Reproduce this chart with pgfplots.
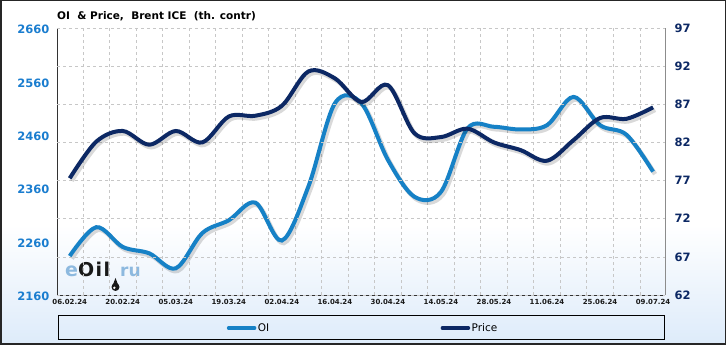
\documentclass[border=0pt]{standalone}
\usepackage{fontspec}
\setmainfont{DejaVu Sans}
\usepackage{pgfplots}
\usepackage{pgfplotstable}
\pgfplotsset{compat=1.18}
\definecolor{oiblue}{HTML}{1681C6}
\definecolor{navy}{HTML}{0C2864}
\definecolor{lblue}{HTML}{1A7DCF}
\definecolor{bgblue}{HTML}{DDEBFA}
\definecolor{wm}{HTML}{8DB9DF}

\pgfplotstableread{
w oi price
0 2233 77.3
1 2287 82.1
2 2250 83.5
3 2238 81.7
4 2210 83.5
5 2276 82.0
6 2300 85.4
7 2333 85.5
8 2262 86.8
9 2363 91.3
10 2519 90.4
11 2519 87.3
12 2413 89.5
13 2344 83.2
14 2353 82.7
15 2472 83.8
16 2475 82.0
17 2470 81.0
18 2478 79.6
19 2531 82.3
20 2478 85.2
21 2460 85.1
22 2391 86.6
}\datatable

\begin{document}
\begin{tikzpicture}[x=1pt,y=1pt]
\useasboundingbox (0,0) rectangle (726,345);
\fill[white] (0,0) rectangle (726,345);
\shade[top color=white, bottom color=bgblue] (0,0) rectangle (726,120);
\node[anchor=base west, inner sep=0pt, font=\bfseries\fontsize{10.5}{12}\selectfont] at (57,325) {OI \ \& Price, \ Brent ICE \ (th. contr)};
\node[anchor=base west, inner sep=0pt, font=\bfseries\fontsize{19}{21}\selectfont] at (65,68) {\textcolor{wm}{e}\textcolor{black!90}{O\hspace{1.5pt}i\hspace{1.5pt}l}};
\node[anchor=base west, inner sep=0pt, font=\bfseries\fontsize{17}{20}\selectfont] at (120,68) {\textcolor{wm}{ru}};
\fill[black!90] (115.5,58) circle (4pt);
\fill[black!90] (112.8,60) -- (115.5,67) -- (118.2,60) -- cycle;
\fill[white] (114.3,57.2) circle (1.3pt);
\draw[line width=1pt, black] (58,5) rectangle (664,29);

\begin{axis}[
  at={(57pt,50pt)}, anchor=south west, scale only axis,
  width=608pt, height=267pt,
  xmin=-0.48, xmax=22.45, ymin=2160, ymax=2660,
  axis line style={black!80, line width=0.8pt},
  ytick={2160,2260,...,2660},
  xtick={0,2,...,22},
  xticklabels={06.02.24,20.02.24,05.03.24,19.03.24,02.04.24,16.04.24,30.04.24,14.05.24,28.05.24,11.06.24,25.06.24,09.07.24},
  minor xtick={0.5,1.5,...,21.5},
  xminorgrids,
  minor grid style={dashed, black!22, line width=0.6pt},
  major tick length=0pt, minor tick length=0pt,
  axis y line*=left, axis x line*=bottom,
  /pgf/number format/assume math mode=true,
  /pgf/number format/1000 sep={},
  yticklabel style={font=\bfseries\fontsize{11.5}{13}\selectfont, text=lblue, xshift=-4pt, yshift=-1.5pt},
  xticklabel style={font=\bfseries\fontsize{7}{8}\selectfont, text=black!90, yshift=-1pt},
]
\addplot[black, opacity=0.15, line width=4.5pt, smooth, tension=0.55, xshift=2pt, yshift=-2.5pt, forget plot] table[x=w, y=oi] {\datatable};
\addplot[oiblue, line width=4pt, smooth, tension=0.55, forget plot] table[x=w, y=oi] {\datatable};
\end{axis}

\begin{axis}[
  at={(57pt,50pt)}, anchor=south west, scale only axis,
  width=608pt, height=267pt,
  xmin=-0.48, xmax=22.45, ymin=62, ymax=97,
  axis x line=none,
  axis y line*=right,
  axis line style={black!45, line width=0.8pt},
  ytick={62,67,...,97},
  ymajorgrids,
  major grid style={dashed, black!22, line width=0.6pt},
  major tick length=0pt,
  /pgf/number format/assume math mode=true,
  yticklabel style={font=\bfseries\fontsize{11.5}{13}\selectfont, text=navy, xshift=6pt},
  legend columns=2,
  legend style={at={(axis description cs:0.503,-0.1236)}, anchor=center, draw=none, fill=none,
    font=\fontsize{10.5}{12}\selectfont, inner sep=0pt,
    /tikz/every even column/.append style={column sep=170pt},
    nodes={inner sep=1.5pt}},
  legend image code/.code={\draw[#1, line width=3.5pt, line cap=round] (0pt,0pt) -- (26pt,0pt);},
]
\addlegendimage{oiblue}
\addlegendentry{OI}
\addplot[black, opacity=0.15, line width=4.5pt, smooth, tension=0.55, xshift=2pt, yshift=-2.5pt, forget plot] table[x=w, y=price] {\datatable};
\addplot[navy, line width=4pt, smooth, tension=0.55] table[x=w, y=price] {\datatable};
\addlegendentry{Price}
\end{axis}
\draw[line width=1.5pt, black!85] (0.75,0.75) rectangle (725.25,344.25);
\end{tikzpicture}
\end{document}
